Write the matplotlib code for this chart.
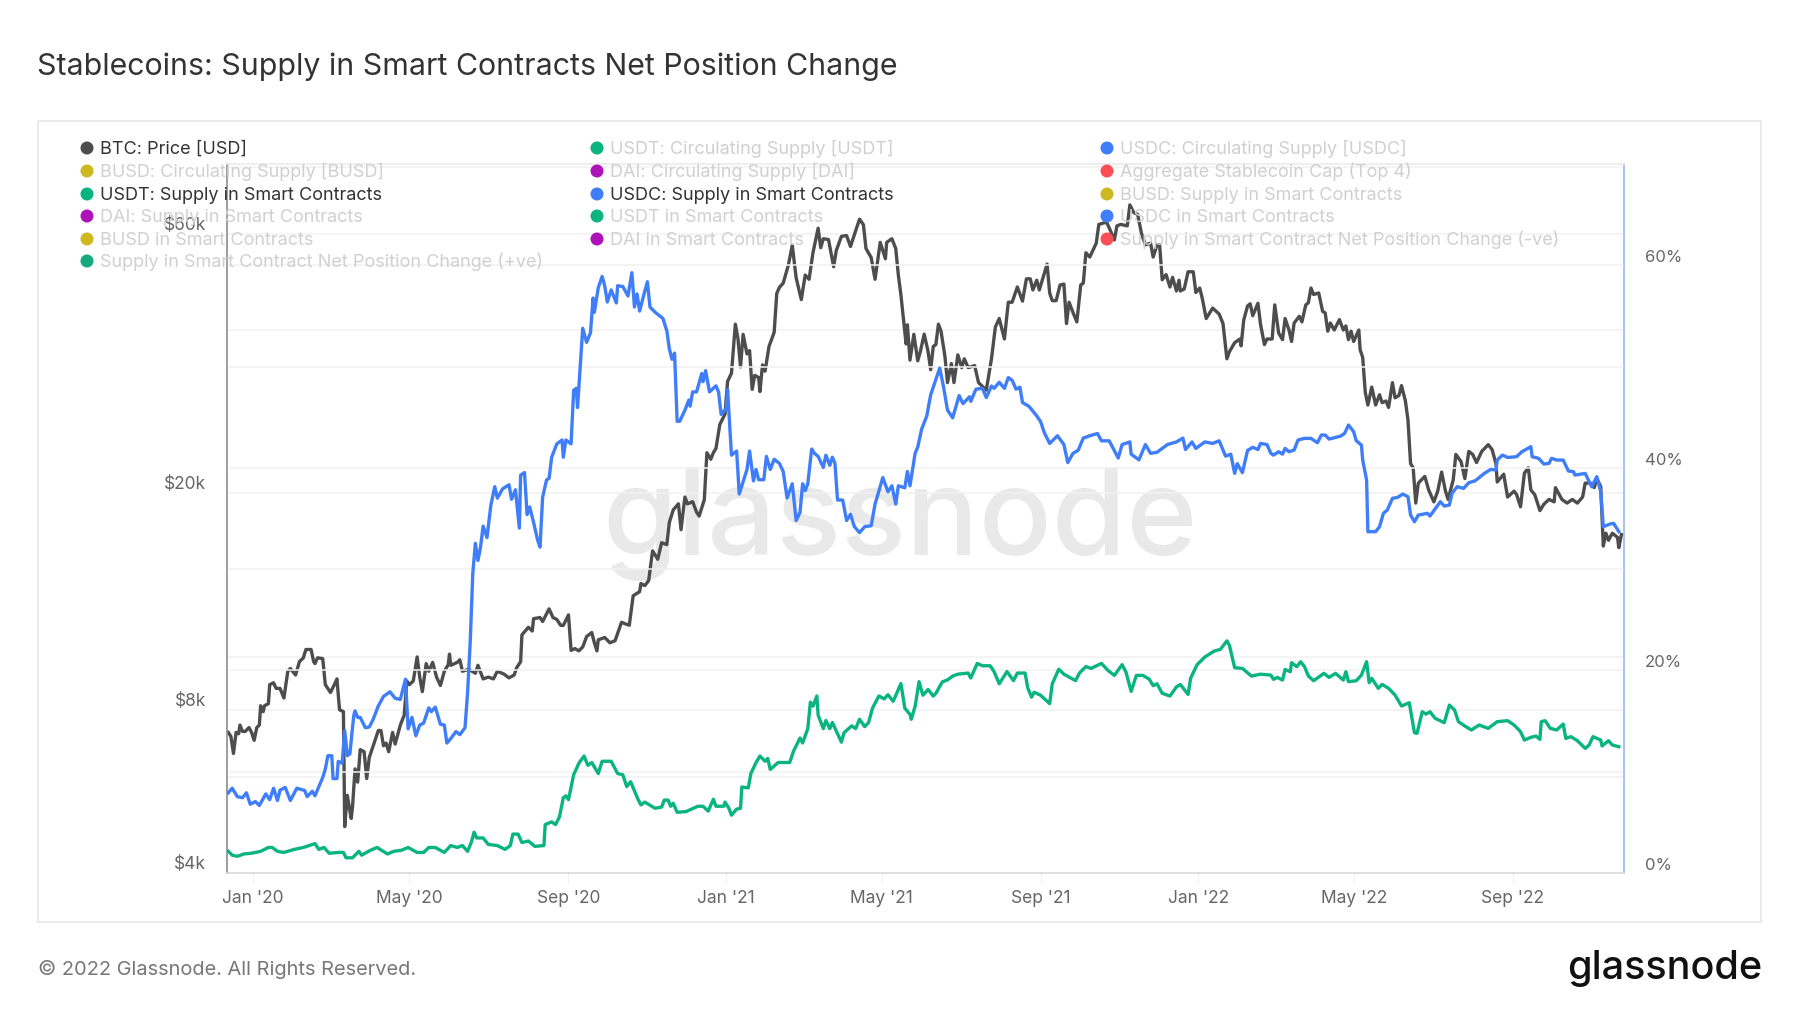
import numpy as np
import matplotlib
matplotlib.use('Agg')
import matplotlib.pyplot as plt
import matplotlib.dates as mdates
from matplotlib.patches import Circle, Rectangle
from matplotlib.ticker import FixedLocator, FuncFormatter, NullFormatter

plt.rcParams['font.family'] = ['Inter', 'DejaVu Sans']

# all series are (days since 2020-01-01, value)
btc_price = [(-19,7260),(-17,7140),(-15,6640),(-13,7260),(-11,7220),(-10,7490),(-8,7290),(-6,7290),(-3,7410),(-1,7260),
    (1,7020),(3,7410),(5,7490),(6,8130),(8,7930),(9,8130),(12,8200),(13,8890),(16,8960),(18,8750),(21,8750),(24,8400),
    (27,9410),(29,9520),(33,9260),(36,9800),(39,9960),(41,10320),(45,10320),(47,9800),(48,9720),(50,9960),(54,9930),
    (56,8890),(60,8600),(63,8890),(65,9110),(67,7990),(70,7930),(71,4870),(73,5560),(76,5040),(77,5280),(79,6220),
    (81,5880),(83,6750),(86,6690),(88,5970),(90,6530),(93,6860),(97,7320),(99,7320),(101,6860),(103,6940),(105,6690),
    (108,7260),(110,6910),(114,7490),(117,7810),(119,9030),(121,8890),(124,9030),(127,10000),(129,9180),(131,8630),
    (134,9720),(136,9410),(139,9770),(142,9180),(145,8860),(148,9410),(151,9670),(152,10120),(153,9650),(158,9770),
    (160,9880),(162,9410),(167,9490),(172,9330),(174,9650),(178,9110),(182,9180),(186,9110),(189,9410),(194,9300),
    (198,9150),(202,9260),(204,9560),(207,9800),(208,10980),(213,11340),(216,11160),(217,11760),(222,11820),(224,11620),
    (229,12260),(232,11820),(235,11720),(238,11430),(240,11430),(244,11950),(246,10280),
    (249,10360),(252,10260),(255,10430),(258,10900),(262,11090),(264,10620),(266,10260),(267,10750),(272,10860),
    (276,10620),(280,10710),(285,11580),(289,11480),(291,11440),(294,12960),(299,13190),(300,13650),(303,13530),
    (306,13830),(309,15680),(313,15130),(316,16230),(320,16100),(322,17700),(325,18660),(329,19140),(331,17150),
    (334,19700),(336,19140),(340,19310),(343,18480),(345,18170),(349,19480),(351,23770),(354,23120),(356,23770),
    (358,24200),(361,26800),(365,28000),(367,32170),(370,33300),(373,41000),(375,38600),(377,34200),(379,39270),
    (382,36140),(384,36650),(386,31100),(388,33000),(391,32700),(392,30800),(394,34500),(396,33600),(399,37300),
    (403,39600),(405,46700),(407,47900),(410,48800),(414,52700),(417,57300),(420,49900),(424,45500),(427,50500),
    (430,49600),(433,55500),(437,61600),(439,56700),(441,58900),(445,58700),(449,52300),(451,56000),(455,59500),
    (459,59700),(462,57000),(465,59900),(469,64000),(472,62500),(474,56500),(478,54400),(481,49600),(485,58000),
    (489,54100),(490,58000),(494,58900),(497,56500),(499,50500),(501,46400),(505,37700),(506,40900),(508,35200),
    (511,39270),(514,35100),
    (516,36500),(519,39300),(522,36500),(524,33800),(526,37300),(528,37600),(530,41000),(532,39800),(535,35800),
    (537,32000),(540,34700),(542,32000),(545,36000),(548,34100),(550,35400),(553,34100),(558,34400),(561,32000),
    (567,31000),(571,35400),(574,40500),(577,42000),(581,38500),(584,45000),(587,45000),(591,48000),(595,45200),
    (598,49700),(601,49700),(603,47400),(606,49400),(608,47400),(614,52900),(616,46800),(618,45300),(621,45300),
    (624,48400),(627,48600),(629,41100),(631,45000),(634,43100),(637,41400),(640,48400),(642,48800),(644,55500),
    (647,54500),(652,57800),(654,62600),(660,63200),(662,61700),(666,58600),(668,62200),(671,62600),(676,62200),
    (678,68000),(681,65800),(684,65300),(687,60200),(690,57400),(694,57800),(696,54500),(699,57400),(701,57400),
    (703,49500),(706,50600),(709,48000),(711,50000),(714,47200),(716,49400),(717,47200),(720,47600),(723,51200),
    (727,51200),(729,46900),(732,47800),(734,45700),(737,42000),(742,43900),(747,42800),(750,41100),(753,35400),
    (755,36500),(759,37900),(763,38500),(764,37400),(766,41700),(769,44300),(771,44700),(773,42500),(777,44800),
    (779,41000),(782,37600),(784,38500),(788,38500),(790,44500),
    (793,39500),(796,38400),(798,42000),(801,40000),(803,38100),(805,41200),(809,42400),(811,41400),(814,44500),
    (816,44900),(818,47800),(820,46500),(824,46800),(827,43300),(829,43000),(831,39800),(833,41200),(836,40000),
    (840,41800),(843,40000),(845,40700),(847,38400),(849,39800),(851,38100),(855,40000),(856,36800),(858,35600),
    (860,30700),(862,29100),(865,31400),(868,29100),(871,30400),(873,29400),(876,29600),(878,28800),(881,32000),
    (883,30000),(886,30300),(888,31600),(891,29600),(893,27300),(895,22700),(897,22300),(899,19200),(901,20900),
    (906,21500),(909,20300),(913,19300),(916,20200),(919,21900),(922,20200),(924,19500),(928,21200),(930,23600),
    (934,22900),(937,21300),(940,23900),(943,23600),(946,22800),(950,23900),(955,24600),(958,24100),(961,22700),
    (962,21000),(967,21700),(970,19700),(975,20200),(977,19900),(980,18900),(983,21800),(986,22300),(988,20300),
    (991,19900),(995,18600),(998,19100),(1002,19500),(1006,19300),(1007,20500),(1012,19500),(1016,19200),(1020,19500),
    (1024,19200),(1028,19700),(1030,20900),(1034,20900),(1037,20500),(1039,21300),(1042,20600),(1044,16000),
    (1046,16900),(1048,16400),(1051,16900),(1055,16600),(1056,15900),(1058,16800)]

usdc_pct = [(-19,7.92),(-16,8.37),(-12,7.54),(-8,7.43),(-5,7.92),(-2,6.79),(2,7.05),(5,6.67),(10,7.81),(13,7.24),(16,8.37),
    (19,7.16),(21,8.18),(25,8.45),(29,7.16),(34,8.37),(40,8.15),(42,7.54),(46,8.07),(48,7.62),(54,9.43),(56,10.26),
    (58,11.58),(61,11.58),(62,9.32),(65,9.32),(66,11.02),(69,10.83),(71,14.04),(73,11.58),(75,11.77),(78,15.55),(79,16.0),
    (81,15.36),(83,15.36),(87,14.34),(90,14.42),(93,15.17),(97,16.5),(101,17.44),(106,17.89),(110,17.25),(114,17.14),
    (118,19.14),(120,14.23),(123,15.36),(126,13.55),(129,14.61),(132,14.8),(136,16.31),(138,15.93),(141,16.38),(145,14.68),
    (148,14.61),(150,12.83),(153,13.28),(157,13.96),(160,13.66),(164,14.34),(166,17.82),(168,22.73),(170,29.53),(172,32.55),
    (174,30.85),(176,32.17),(178,34.25),(181,33.12),(184,36.33),(187,38.14),(189,37.01),(193,37.92),(198,38.33),(200,36.9),
    (203,37.84),(206,34.06),(207,39.28),(210,39.54),(212,35.39),(214,36.14),(217,34.63),(220,32.93),(222,32.17),(224,37.09),
    (227,38.79),(229,38.97),(231,41.05),(235,42.37),(239,42.75),(240,41.05),(242,42.75),(246,42.37),(248,47.66),(250,47.85),
    (251,45.96),(253,49.93),(255,53.78),(258,52.39),
    (261,53.34),(263,56.77),(264,55.36),(267,57.78),(270,58.9),(272,57.98),(274,56.37),(277,57.57),(281,56.28),(282,57.98),
    (286,57.9),(290,56.97),(293,59.27),(295,55.88),(297,57.17),(299,55.48),(302,56.97),(305,58.38),(307,55.88),(311,55.36),
    (313,55.16),(317,54.75),(320,53.54),(322,51.73),(324,50.72),(326,51.33),(328,44.6),(330,44.6),(334,45.69),(337,46.69),
    (338,46.09),(340,47.5),(343,47.5),(347,49.31),(348,48.51),(350,49.6),(353,47.5),(358,48.1),(360,47.5),(362,45.28),
    (366,45.89),(367,47.7),(370,41.25),(374,41.66),(376,37.42),(379,38.63),(382,39.84),(384,41.66),(387,38.71),(389,39.84),
    (391,38.83),(395,38.83),(397,41.13),(400,39.84),(403,40.85),(407,40.45),(410,39.64),(413,37.02),(417,38.43),(420,34.8),
    (423,35.61),(425,38.43),(427,37.75),(429,38.43),(432,41.86),(434,41.45),(437,41.13),(441,40.04),(443,41.25),(446,40.25),
    (448,41.05),(450,40.45),(452,36.82),(456,36.82),(459,34.8),(462,35.41),(465,34.2),(469,33.6),(473,34.2),(478,34.28),
    (481,36.42),(487,39.04),(491,37.63),(494,38.23),(497,36.42),(499,38.23),(504,38.03),(506,39.64),(508,38.23),(512,41.45),
    (514,42.06),
    (517,43.81),(521,45.13),(524,47.21),(528,48.72),(531,49.85),(534,47.96),(537,45.7),(541,44.94),(546,47.13),(549,46.34),
    (554,47.02),(555,46.57),(559,47.77),(564,47.85),(567,46.94),(571,48.08),(573,47.85),(577,48.45),(581,47.85),(584,48.91),
    (587,48.64),(590,47.77),(593,47.96),(595,46.45),(600,46.07),(606,45.13),(609,44.56),(612,43.43),(616,42.41),(622,43.17),
    (627,42.3),(630,40.52),(634,41.43),(638,41.73),(642,42.94),(647,43.17),(653,43.39),(656,42.67),(662,42.67),(669,40.97),
    (672,42.3),(678,42.56),(679,41.35),(685,40.79),(690,42.3),(694,41.43),(699,41.54),(707,42.3),(714,42.56),(719,42.94),
    (721,41.81),(726,42.56),(729,41.92),(736,42.56),(742,42.41),(747,42.67),(752,41.16),(756,41.35),(759,39.46),(761,40.41),
    (765,39.53),(769,41.73),(773,42.03),(777,41.81),(779,42.41),(784,42.3),
    (787,41.43),(789,41.26),(793,41.59),(796,41.36),(798,41.92),(801,41.59),(805,41.76),(808,42.75),(813,42.91),(818,42.91),
    (823,42.48),(826,43.24),(829,43.24),(832,42.84),(841,43.14),(844,43.4),(847,44.23),(851,43.57),(853,42.68),(857,42.25),
    (858,40.77),(861,38.8),(862,33.7),(868,33.7),(871,34.19),(874,35.51),(877,35.84),(881,36.99),(885,37.09),(889,37.41),
    (893,37.15),(895,35.34),(898,34.68),(901,35.34),(908,35.51),(910,35.24),(918,36.66),(921,36.23),(925,36.33),(927,37.48),
    (931,38.14),(936,37.97),(940,38.53),(945,38.73),(952,39.45),(957,39.85),(961,39.78),(962,40.77),(966,41.26),(970,41.03),
    (977,41.1),(981,41.59),(988,42.09),(989,41.1),(994,40.94),(998,40.38),(1002,40.44),(1004,40.94),(1008,40.77),(1013,40.77),
    (1017,39.69),(1021,39.62),(1022,39.29),(1030,39.45),(1035,38.14),(1039,39.13),(1042,37.65),(1044,34.19),(1049,34.45),
    (1052,34.52),(1056,33.7)]

usdt_pct = [(-19,2.14),(-16,1.76),(-12,1.65),(-7,1.88),(-1,1.95),(6,2.14),(12,2.52),(15,2.52),(19,2.14),(24,2.03),(32,2.33),
    (39,2.52),(48,2.9),(51,2.33),(55,2.52),(59,1.95),(66,2.03),(70,2.03),(72,1.5),(77,1.5),(82,2.14),(84,1.76),(91,2.25),
    (96,2.52),(104,1.88),(109,2.14),(115,2.25),(120,2.52),(127,2.03),(132,2.03),(136,2.52),(141,2.52),(148,2.03),(153,2.71),
    (158,2.52),(162,2.71),(166,2.14),(169,3.08),(171,4.03),(173,3.46),(178,3.46),(182,2.82),(189,2.71),(195,2.33),(199,2.71),
    (201,3.84),(205,3.84),(208,3.01),(213,3.16),(218,2.63),(225,2.71),(226,4.78),(231,5.05),(234,4.78),(237,5.54),(240,7.43),
    (242,7.62),(244,7.24),(248,9.7),(252,10.83),(256,11.55),
    (259,10.63),(262,10.91),(267,9.82),(270,11.03),(277,11.03),(282,9.82),(286,9.7),(289,8.53),(292,9.01),(298,7.2),(300,6.72),
    (303,7.0),(311,6.39),(316,6.51),(318,7.2),(321,7.2),(323,6.59),(325,6.88),(328,5.99),(335,6.07),(344,6.59),(348,6.59),
    (352,6.11),(356,7.28),(358,6.59),(364,6.59),(365,7.0),(368,6.39),(370,5.71),(374,6.31),(377,6.39),(378,8.49),(383,8.41),
    (385,9.82),(389,10.91),(392,11.55),(396,11.03),(398,11.31),(400,10.22),(406,10.91),(415,10.91),(418,12.04),(423,13.33),
    (425,12.84),(429,14.25),(431,16.87),(433,16.47),(436,17.48),(437,15.58),(441,14.25),(443,15.06),(446,14.25),(448,14.86),
    (455,12.92),(457,13.85),(463,14.53),(466,14.25),(469,15.18),(473,14.45),(476,14.86),(479,16.27),(484,17.48),(488,17.19),
    (491,17.6),(495,16.95),(501,18.7),(504,16.27),(508,15.66),(509,15.18),(512,16.47),(515,18.89),
    (518,17.55),(522,18.12),(526,17.47),(528,17.74),(533,18.87),(537,19.06),(541,19.44),(545,19.63),(553,19.74),(555,19.25),
    (560,20.69),(564,20.46),(570,20.46),(573,19.89),(577,18.68),(583,19.89),(588,18.99),(591,19.74),(597,19.74),(599,18.31),
    (602,17.36),(604,17.85),(609,17.55),(616,16.72),(618,18.68),(623,20.12),(627,19.63),(636,18.99),(639,19.74),(644,20.38),
    (648,20.2),(656,20.69),(661,20.01),(666,19.51),(672,20.57),(675,19.82),(679,17.93),(683,19.51),(688,19.51),(693,19.14),
    (696,18.49),(699,18.68),(703,17.74),(709,17.47),(714,18.38),(717,18.61),(723,17.63),(725,19.25),(730,20.57),(736,21.33),
    (743,21.9),(748,22.08),(753,22.92),(755,22.46),(759,20.27),(765,20.2),(772,19.44),(779,19.63),
    (787,19.54),(789,19.12),(792,19.31),(796,19.05),(798,20.1),(802,19.87),(803,20.76),(807,20.37),(810,20.86),(813,20.37),
    (816,19.45),(820,18.98),(828,19.71),(832,19.31),(837,19.71),(843,19.05),(845,19.87),(847,18.89),(853,18.98),(857,19.54),
    (861,20.86),(863,18.79),(865,19.22),(870,18.23),(873,18.62),(878,18.23),(883,17.57),(888,16.48),(894,16.81),(898,13.85),
    (900,13.79),(904,15.92),(907,15.69),(910,15.92),(914,15.27),(921,14.84),(925,16.58),(929,16.09),(932,14.94),(937,14.51),
    (942,14.12),(948,14.61),(955,14.28),(962,14.94),(970,15.04),(975,14.61),(980,13.95),(983,13.13),(988,13.39),(992,13.52),
    (995,13.19),(996,14.94),(999,15.04),(1003,14.28),(1008,14.12),(1013,14.71),(1015,13.29),(1019,13.46),(1024,13.06),
    (1030,12.3),(1033,12.63),(1036,13.46),(1042,13.13),(1043,12.54),(1048,13.06),(1051,12.63),(1056,12.47)]

left_labelled = [4000, 8000, 20000, 60000]
left_grid_only = [6000, 10000, 40000, 80000]
right_labelled = [0, 20, 40, 60]
right_grid_only = [10, 30, 50, 70]

legend_rows = [
    ['BTC: Price [USD]', 'USDT: Circulating Supply [USDT]', 'USDC: Circulating Supply [USDC]'],
    ['BUSD: Circulating Supply [BUSD]', 'DAI: Circulating Supply [DAI]', 'Aggregate Stablecoin Cap (Top 4)'],
    ['USDT: Supply in Smart Contracts', 'USDC: Supply in Smart Contracts', 'BUSD: Supply in Smart Contracts'],
    ['DAI: Supply in Smart Contracts', 'USDT in Smart Contracts', 'USDC in Smart Contracts'],
    ['BUSD in Smart Contracts', 'DAI in Smart Contracts', 'Supply in Smart Contract Net Position Change (-ve)'],
    ['Supply in Smart Contract Net Position Change (+ve)'],
]
legend_colors = [
    ['#4d4d4d', '#0ab47f', '#3f7ef8'],
    ['#cdb91f', '#ad12b8', '#fb4f55'],
    ['#0ab47f', '#3f7ef8', '#cdb91f'],
    ['#ad12b8', '#0ab47f', '#3f7ef8'],
    ['#cdb91f', '#ad12b8', '#fb4f55'],
    ['#16a981'],
]
active = ['BTC: Price [USD]', 'USDT: Supply in Smart Contracts', 'USDC: Supply in Smart Contracts']

W, H = 1800, 1013
start = np.datetime64('2020-01-01')


def to_dates(days):
    return start + np.array(days).astype('timedelta64[D]')


fig = plt.figure(figsize=(W / 100, H / 100), dpi=100, facecolor='white')

# the frame, title and footer are placed in pixels
page = fig.add_axes([0, 0, 1, 1], zorder=0)
page.set_xlim(0, W)
page.set_ylim(H, 0)
page.axis('off')
page.add_patch(Rectangle((38, 121), 1723, 801, fc='white', ec='#e8e8e8', lw=1.3))
page.text(37, 67, 'Stablecoins: Supply in Smart Contracts Net Position Change',
          fontsize=21.85, color='#333333', va='center')
page.text(38, 969, '© 2022 Glassnode. All Rights Reserved.', fontsize=14.4, color='#777777', va='center')
page.text(1762, 979, 'glassnode', fontsize=28.5, color='#111111', va='baseline', ha='right', fontweight='medium')

ax = fig.add_axes([227 / W, 1 - 873 / H, (1624 - 227) / W, (873 - 164) / H], zorder=1)
ax.patch.set_alpha(0)
ax2 = ax.twinx()

ax.text(0.482, 0.4485, 'glassnode', transform=ax.transAxes, fontsize=87, color='#e9e9e9',
        ha='center', va='baseline', zorder=0, fontweight='medium')

btc_days, btc_vals = zip(*btc_price)
usdt_days, usdt_vals = zip(*usdt_pct)
usdc_days, usdc_vals = zip(*usdc_pct)
ax.plot(to_dates(btc_days), btc_vals, color='#4d4d4d', lw=2.4, solid_joinstyle='round', zorder=3)
ax2.plot(to_dates(usdt_days), usdt_vals, color='#0ab47f', lw=2.4, solid_joinstyle='round', zorder=3)
ax2.plot(to_dates(usdc_days), usdc_vals, color='#3f7ef8', lw=2.4, solid_joinstyle='round', zorder=4)

ax.set_xlim(np.datetime64('2019-12-12'), np.datetime64('2022-11-26'))
ax.set_yscale('log')
ax.set_ylim(4000, 4000 * 10 ** (709 / 543))
ax2.set_ylim(0, 70)

ax.xaxis.set_major_locator(mdates.MonthLocator(bymonth=(1, 5, 9)))
ax.xaxis.set_major_formatter(mdates.DateFormatter("%b '%y"))
ax.tick_params(axis='x', length=7, width=0.8, color='#f0f0f0', labelsize=12.5, labelcolor='#666666', pad=5.5)

ax.yaxis.set_major_locator(FixedLocator(left_labelled))
ax.yaxis.set_major_formatter(FuncFormatter(lambda v, _: '$%dk' % round(v / 1000)))
ax.yaxis.set_minor_locator(FixedLocator(left_grid_only))
ax.yaxis.set_minor_formatter(NullFormatter())
ax.tick_params(axis='y', which='both', length=0, labelsize=12.5, labelcolor='#666666', pad=15)
ax.grid(True, axis='y', which='both', color='#f1f1f1', lw=1.1)
ax.set_axisbelow(True)

ax2.yaxis.set_major_locator(FixedLocator(right_labelled))
ax2.yaxis.set_major_formatter(FuncFormatter(lambda v, _: '%d%%' % v))
ax2.yaxis.set_minor_locator(FixedLocator(right_grid_only))
ax2.yaxis.set_minor_formatter(NullFormatter())
ax2.tick_params(axis='y', which='both', length=0, labelsize=12, labelcolor='#666666', pad=15)
ax2.grid(True, axis='y', which='both', color='#f1f1f1', lw=1.1)
ax2.set_axisbelow(True)

# tick labels sit just above their gridlines
for axis in (ax, ax2):
    for lab in axis.get_yticklabels():
        lab.set_va('bottom')

for a in (ax, ax2):
    a.spines['left'].set_color('#9a9a9a')
    a.spines['right'].set_color('#a9c1f3')
    a.spines['top'].set_color('#eeeeee')
    a.spines['bottom'].set_color('#dcdcdc')
    for s in a.spines.values():
        s.set_linewidth(1.1)

# legend sits over the plot, drawn in pixels
over = fig.add_axes([0, 0, 1, 1], zorder=5)
over.set_xlim(0, W)
over.set_ylim(H, 0)
over.axis('off')
col_dot = [87, 597, 1107]
row_y = [148, 171, 194, 216, 239, 261]
for r, row in enumerate(legend_rows):
    for c, name in enumerate(row):
        over.add_patch(Circle((col_dot[c], row_y[r]), 6.5, fc=legend_colors[r][c], ec='none'))
        over.text(col_dot[c] + 13.5, row_y[r] + 1, name, fontsize=13, va='center',
                  color='#333333' if name in active else '#d0d0d0')

fig.savefig('out.png', dpi=100)
